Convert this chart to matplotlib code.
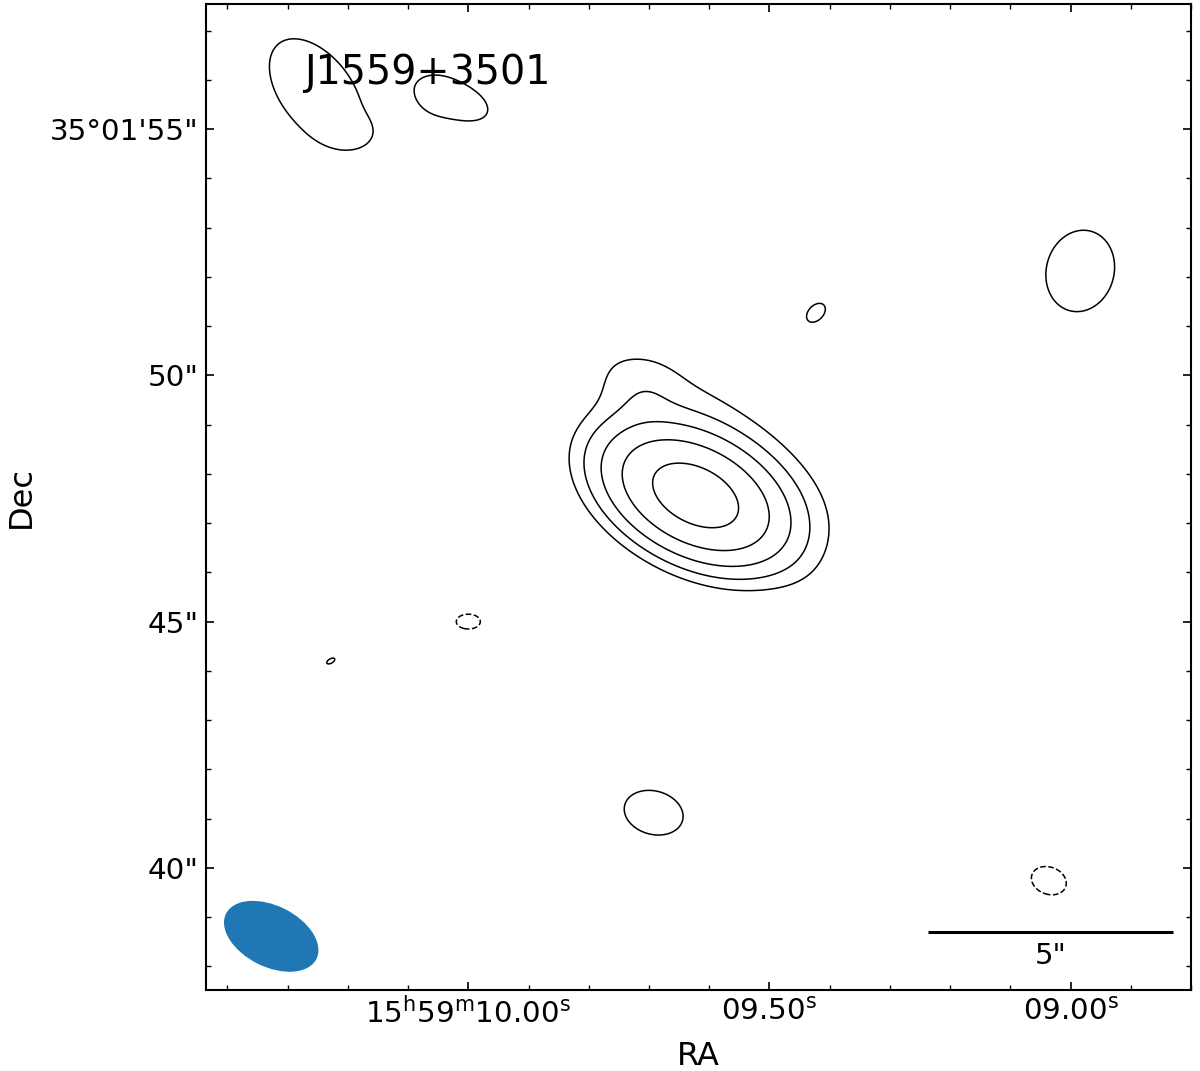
import numpy as np
import matplotlib
matplotlib.use("Agg")
import matplotlib.pyplot as plt
from matplotlib.patches import Ellipse

plt.rcParams['font.family'] = ['DejaVu Sans']
plt.rcParams['mathtext.default'] = 'regular'

# ---- data -------------------------------------------------------------
source_name = "J1559+3501"
ra_ref_s = 10.00            # 15h59m10.00s
dec_deg = 35.03
rms = 1.0
level_factors = [-3, 3, 9, 27, 81, 243]     # in units of rms

# beam (FWHM, arcsec) and position angle in plot frame (deg from +x)
beam_major = 2.06
beam_minor = 1.24
beam_angle = -26.4

# components: x offset (arcsec, west positive), y = Dec arcsec past 35d01'
comp_x      = [4.634, 3.577, 4.817, 6.73, -3.11, -2.46, -0.29, -0.69, 12.48, 7.09, 0.00, -2.805, 3.78, 11.84]
comp_y      = [47.56, 49.50, 48.87, 46.15, 55.77, 54.98, 55.60, 55.64, 52.12, 51.27, 45.00, 44.20, 41.12, 39.74]
comp_amp    = [430.0, 4.5, 5.0, 1.0, 6.0, 2.5, 6.0, 2.0, 6.0, 6.0, -6.0, 6.0, 6.0, -6.0]
comp_fwhm_a = [2.06, 1.00, 4.55, 1.20, 2.45, 0.90, 1.45, 0.70, 1.67, 0.45, 0.49, 0.18, 1.22, 0.73]
comp_fwhm_b = [1.24, 1.00, 1.43, 1.20, 1.45, 0.55, 0.72, 0.70, 1.38, 0.30, 0.30, 0.09, 0.88, 0.55]
comp_pa     = [-26.4, 0.0, -34.5, 0.0, -52.0, -10.0, -22.0, 0.0, 75.0, 45.0, 0.0, 30.0, -15.0, -20.0]

ra_major_s = [10.00, 9.50, 9.00]
ra_major_labels = [r'$15^{h}59^{m}10.00^{s}$', r'$09.50^{s}$', r'$09.00^{s}$']
ra_minor_s = [10.4, 10.3, 10.2, 10.1, 9.9, 9.8, 9.7, 9.6, 9.4, 9.3, 9.2, 9.1, 8.9, 8.8]
dec_major = [40, 45, 50, 55]
dec_major_labels = ['40"', '45"', '50"', '35°01\'55"']
dec_minor = [38, 39, 41, 42, 43, 44, 46, 47, 48, 49, 51, 52, 53, 54, 56, 57]
scalebar_arcsec = 5.0

xlim = (-5.35, 14.67)
ylim = (37.52, 57.54)

# ---- helpers ----------------------------------------------------------
sec_to_arcsec = 15.0 * np.cos(np.deg2rad(dec_deg))

def ra_to_x(ra_s):
    return (ra_ref_s - np.asarray(ra_s)) * sec_to_arcsec

F2S = 1.0 / (2.0 * np.sqrt(2.0 * np.log(2.0)))

xg = np.arange(xlim[0], xlim[1], 0.01)
yg = np.arange(ylim[0], ylim[1], 0.01)
X, Y = np.meshgrid(xg, yg)
Z = np.zeros_like(X)
for cx, cy, a, fa, fb, pa in zip(comp_x, comp_y, comp_amp, comp_fwhm_a, comp_fwhm_b, comp_pa):
    t = np.deg2rad(pa)
    dx, dy = X - cx, Y - cy
    u = dx * np.cos(t) + dy * np.sin(t)
    v = -dx * np.sin(t) + dy * np.cos(t)
    sa, sb = fa * F2S, fb * F2S
    Z += a * np.exp(-0.5 * ((u / sa) ** 2 + (v / sb) ** 2))

# ---- figure -----------------------------------------------------------
fig = plt.figure(figsize=(12.0, 10.71), dpi=100)
ax = fig.add_axes([206 / 1200, 1 - 990 / 1071, 985 / 1200, 986 / 1071])

levels = [f * rms for f in level_factors]
ax.contour(X, Y, Z, levels=levels, colors='black', linewidths=1.1)

ax.add_patch(Ellipse((-4.02, 38.61), beam_major, beam_minor, angle=beam_angle,
                     facecolor='#1f77b4', edgecolor='none'))

sb_right = 14.37
sb_y = 38.70
ax.plot([sb_right - scalebar_arcsec, sb_right], [sb_y, sb_y], color='black', lw=2.2,
        solid_capstyle='butt')
ax.text(sb_right - scalebar_arcsec / 2, 38.21, '5"', ha='center', va='center', fontsize=21)

ax.text(0.1, 0.919, source_name, transform=ax.transAxes, fontsize=28.5,
        ha='left', va='baseline')

ax.set_xlim(*xlim)
ax.set_ylim(*ylim)
ax.set_xticks(ra_to_x(ra_major_s))
ax.set_xticklabels(ra_major_labels)
ax.set_xticks(ra_to_x(ra_minor_s), minor=True)
ax.set_yticks(dec_major)
ax.set_yticklabels(dec_major_labels)
ax.set_yticks(dec_minor, minor=True)

ax.tick_params(which='both', direction='in', top=True, right=True, labelsize=21.2, pad=5)
ax.tick_params(which='major', length=5.5, width=1.2)
ax.tick_params(which='minor', length=3.5, width=1.0)
for s in ax.spines.values():
    s.set_linewidth(1.5)

ax.set_xlabel('RA', fontsize=23, labelpad=9)
ax.set_ylabel('Dec', fontsize=23, labelpad=10)

fig.savefig('out.png', dpi=100)
